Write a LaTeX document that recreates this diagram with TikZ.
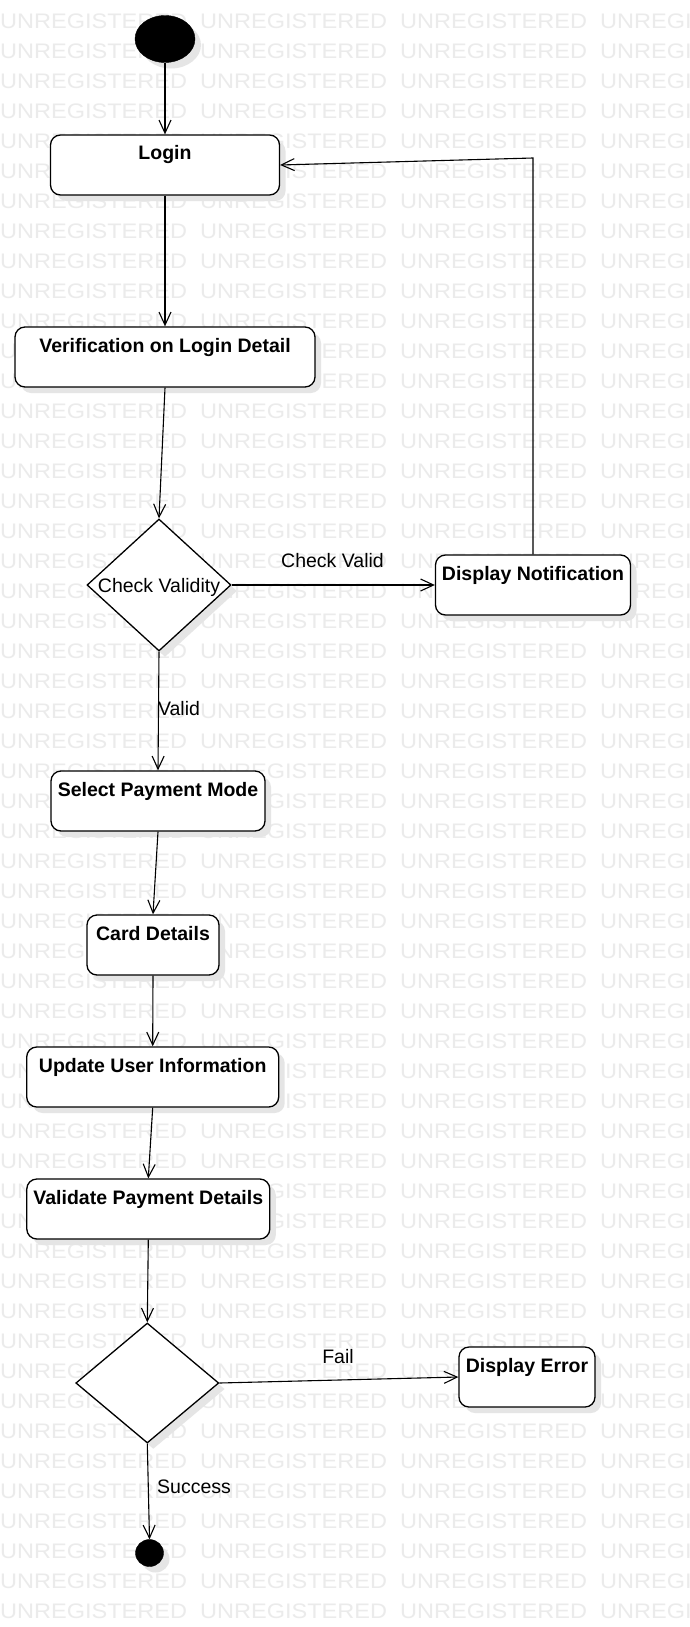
\documentclass[tikz,border=0pt]{standalone}
\usepackage{fontspec}
\setmainfont{Liberation Sans}
\usepackage{graphicx}
\usetikzlibrary{shapes.geometric,arrows.meta,shadows}
\tikzset{
  shade/.style={drop shadow={shadow xshift=6pt, shadow yshift=-6pt, fill=black!10, opacity=1}},
  actbox/.style={draw, line width=1.3pt, rounded corners=10pt, fill=white,
    inner xsep=0pt, inner ysep=0pt, text height=25pt, text depth=35pt,
    font=\bfseries\fontsize{19.5}{22}\selectfont, shade},
  decision/.style={diamond, draw, line width=1.3pt, fill=white, inner sep=0pt, shade},
  flow/.style={draw, line width=1.1pt, -{Straight Barb[length=13pt,width=12pt]}},
  lbl/.style={font=\fontsize{19.5}{22}\selectfont, inner sep=0pt},
  wm/.style={anchor=base west, inner sep=0pt, text=black!8, font=\fontsize{21}{21}\selectfont},
  dot/.style={ellipse, draw, fill=black, inner sep=0pt, shade}
}
\begin{document}
\begin{tikzpicture}[x={(1pt,0pt)}, y={(0pt,-1pt)}]
\useasboundingbox (0,0) rectangle (690,1627);
\fill[white] (0,0) rectangle (690,1627);
\clip (0,0) rectangle (690,1627);
% watermark
\foreach \k in {0,...,53} {
  \foreach \j in {0,...,3} {
    \node[wm] (wm-\k-\j) at (200*\j, 28.5+30*\k) {\scalebox{1.12}[1]{UNREGISTERED}};
  }
}
% nodes
\node[dot, minimum width=60pt, minimum height=47pt] (start) at (165,39) {};
\node[actbox, minimum width=229pt] (login) at (165,165) {Login};
\node[actbox, minimum width=300pt] (verif) at (165,357) {Verification on Login Detail};
\node[decision, minimum width=144pt, minimum height=132pt] (d1) at (159,585) {};
\node[lbl] (d1txt) at (159,587) {Check Validity};
\node[actbox, minimum width=195pt] (dn) at (533,585) {Display Notification};
\node[actbox, minimum width=214pt] (spm) at (158,801) {Select Payment Mode};
\node[actbox, minimum width=132pt] (card) at (153,945) {Card Details};
\node[actbox, minimum width=252pt] (upd) at (152.7,1077) {Update User Information};
\node[actbox, minimum width=243pt] (val) at (148.3,1209) {Validate Payment Details};
\node[decision, minimum width=143pt, minimum height=120pt] (d2) at (147.3,1383) {};
\node[actbox, minimum width=136pt] (de) at (527,1377) {Display Error};
\node[dot, minimum width=28pt, minimum height=27pt] (end) at (149.5,1553) {};
% labels
\node[lbl] (lcv) at (332.5,561) {Check Valid};
\node[lbl] (lvalid) at (179,709) {Valid};
\node[lbl] (lfail) at (338,1356.5) {Fail};
\node[lbl] (lsucc) at (194,1486.5) {Success};
% connectors
\coordinate (bend) at (533,158);
\draw[flow] (start.south) -- (login.north);
\draw[flow] (login.south) -- (verif.north);
\draw[flow] (verif.south) -- (d1.north);
\draw[flow] (d1.east) -- (dn.west);
\draw[flow] (dn.north) -- (bend) -- (login.east);
\draw[flow] (d1.south) -- (spm.north);
\draw[flow] (spm.south) -- (card.north);
\draw[flow] (card.south) -- (upd.north);
\draw[flow] (upd.south) -- (val.north);
\draw[flow] (val.south) -- (d2.north);
\draw[flow] (d2.east) -- (de.west);
\draw[flow] (d2.south) -- (end.north);
\end{tikzpicture}
\end{document}
